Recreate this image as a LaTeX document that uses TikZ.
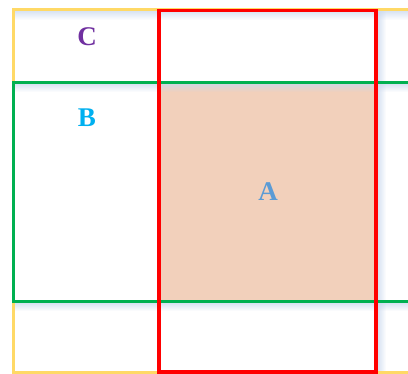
\documentclass[tikz,border=0pt]{standalone}
\usepackage{fontspec}
\setmainfont{Liberation Serif}
\usetikzlibrary{fadings}
\definecolor{cyel}{HTML}{FFD966}
\definecolor{cgreen}{HTML}{00B050}
\definecolor{cred}{HTML}{FF0000}
\definecolor{cfill}{HTML}{F2D0BB}
\definecolor{cpurple}{HTML}{7030A0}
\definecolor{cblueB}{HTML}{00B0F0}
\definecolor{cblueA}{HTML}{5B9BD5}
\definecolor{cshadow}{HTML}{C8D8EE}
\begin{document}
\begin{tikzpicture}[x=1pt,y=-1pt,
  hshadow/.style={fill=cshadow, path fading=south, fill opacity=0.7},
  vshadow/.style={fill=cshadow, path fading=east, fill opacity=0.7},
  lbl/.style={font=\fontsize{27}{30}\selectfont\bfseries, inner sep=0pt}]
\useasboundingbox (0,0) rectangle (408,374);
\fill[white] (0,0) rectangle (408,374);
\begin{scope}
\clip (0,0) rectangle (408,374);
% fill of A
\fill[cfill] (159,82.5) rectangle (376,301.5);
% soft shadows
\fill[hshadow] (15,11) rectangle (420,20);
\fill[hshadow] (15,84) rectangle (420,92);
\fill[hshadow] (15,303) rectangle (420,311);
\fill[vshadow] (378,11) rectangle (386,372);
% rectangles
\draw[cyel, line width=3.5] (13.5,9.5) rectangle (440,373);
\draw[cgreen, line width=3.5] (13.5,82.5) rectangle (440,301.5);
\draw[cred, line width=3.5] (159,10.5) rectangle (376,372);
\end{scope}
% labels
\node[lbl, text=cpurple] (c) at (87,36.5) {C};
\node[lbl, text=cblueB] (b) at (87,118) {B};
\node[lbl, text=cblueA] (a) at (268,192) {A};
\end{tikzpicture}
\end{document}
